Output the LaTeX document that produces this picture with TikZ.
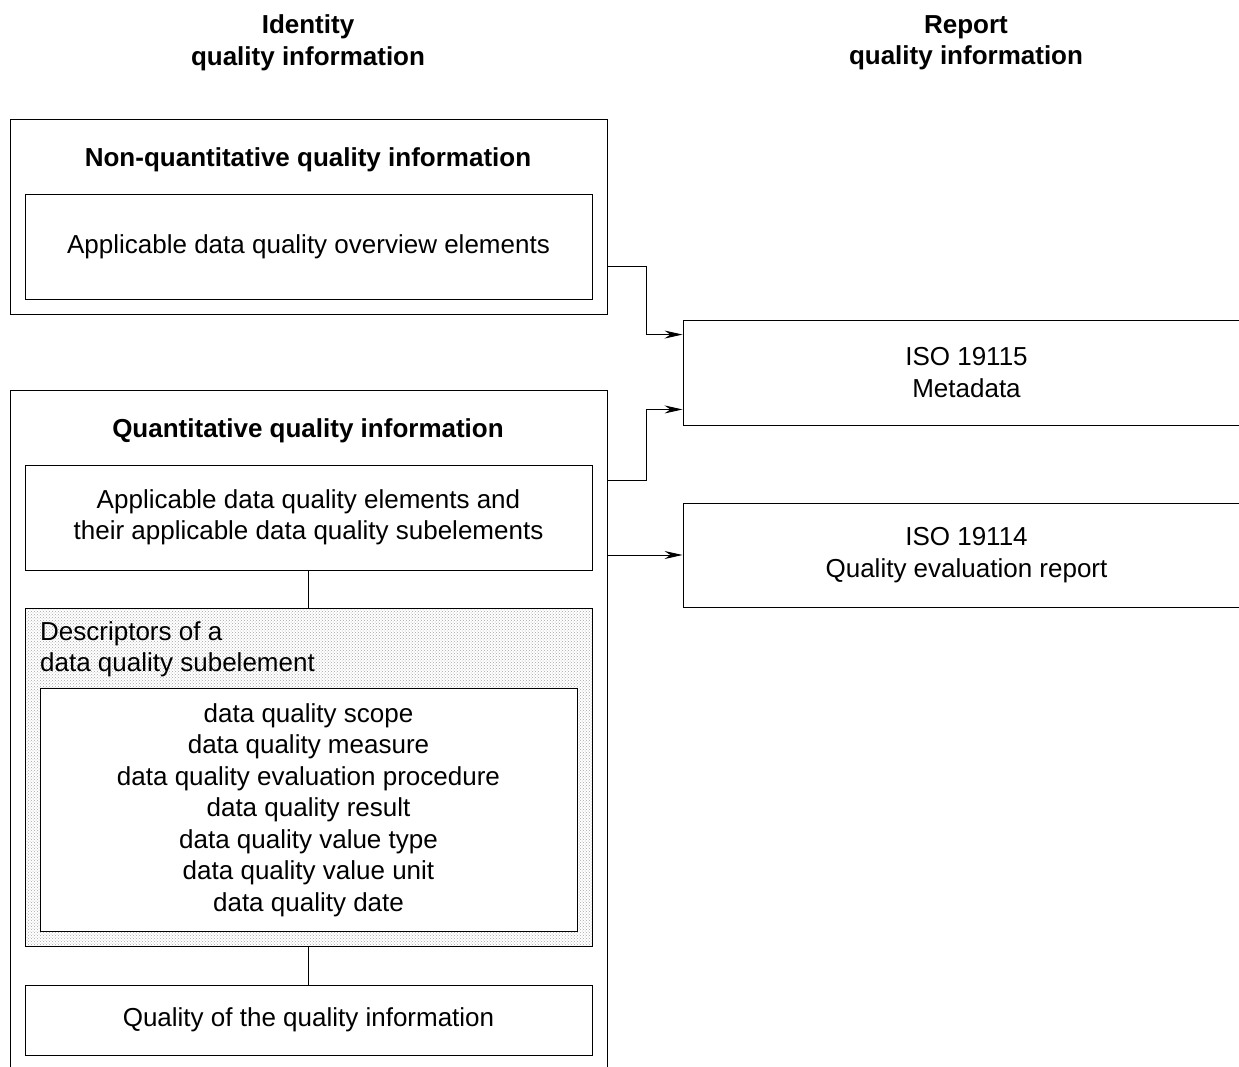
\documentclass[tikz,border=0pt]{standalone}
\usepackage{fontspec}
\setmainfont{Liberation Sans}
\usetikzlibrary{positioning,arrows.meta,patterns}

\begin{document}
\begin{tikzpicture}[x=1pt, y=-1pt,
   frame/.style={draw, line width=0.9pt, minimum width=597pt, inner sep=0pt},
   block/.style={draw, line width=0.9pt, minimum width=567pt, minimum height=105pt,
                 inner sep=0pt, align=center, font=\fontsize{26}{31.5}\selectfont},
   title/.style={font=\bfseries\fontsize{26}{31.5}\selectfont, align=center},
   >={Stealth[length=18pt,width=8pt]}]
  \useasboundingbox (0,0) rectangle (1239,1066);
  \clip (0,0) rectangle (1239,1066);
  % column headings
  \node[title] (idhead) at (308,43) {Identity\\quality information};
  \node[title] (rephead) at (966,43) {Report\\quality information};
  % non-quantitative part
  \node[frame, minimum height=195pt] (nonq) at (308.5,216.5) {};
  \node[title] (nonqtitle) at (308,160) {Non-quantitative quality information};
  \node[block] (overview) at (308.5,246.5) {Applicable data quality overview elements};
  % quantitative part
  \node[frame, minimum height=690pt] (quant) at (308.5,735) {};
  \node[title] (quanttitle) at (308,431) {Quantitative quality information};
  \node[block] (elements) at (308.5,517.5)
    {Applicable data quality elements and\\their applicable data quality subelements};
  \node[block, minimum height=338pt, pattern=crosshatch dots, pattern color=gray!70]
    (descr) at (308.5,777) {};
  \node[anchor=north west, inner sep=0pt, align=left,
        font=\fontsize{26}{31.5}\selectfont] (descrlabel) at (40,621)
    {Descriptors of a\\data quality subelement};
  \node[block, fill=white, minimum width=537pt, minimum height=243pt] (descrlist)
    at (308.5,810)
    {data quality scope\\data quality measure\\data quality evaluation procedure\\
     data quality result\\data quality value type\\data quality value unit\\
     data quality date};
  \node[block, minimum height=70pt] (qqi) at (308.5,1020)
    {Quality of the quality information};
  \draw[line width=0.9pt] (elements) -- (descr);
  \draw[line width=0.9pt] (descr) -- (qqi);
  % report side
  \node[block] (iso15) at (966.5,372.5) {ISO 19115\\Metadata};
  \node[block, minimum height=104pt] (iso14) at (966.5,555)
    {ISO 19114\\Quality evaluation report};
  \draw[->, line width=0.9pt] (nonq.east |- 0,266) -- ++(39,0)
    |- ([yshift=-15pt]iso15.north west);
  \draw[->, line width=0.9pt] (quant.east |- 0,480) -- ++(39,0)
    |- ([yshift=16pt]iso15.south west);
  \draw[->, line width=0.9pt] (quant.east |- iso14.west) -- (iso14.west);
\end{tikzpicture}
\end{document}
